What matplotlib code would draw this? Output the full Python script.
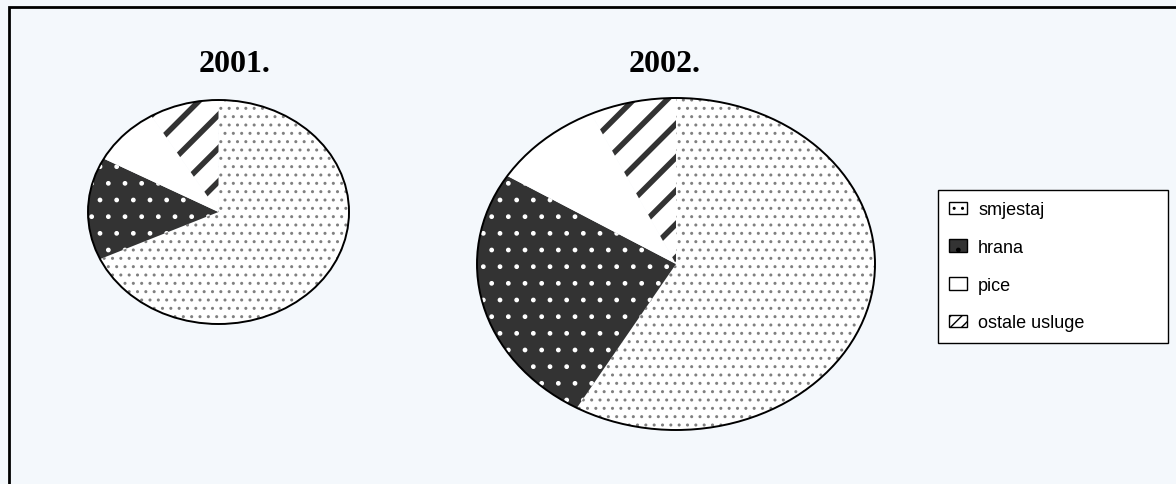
import matplotlib
matplotlib.use('Agg')
import matplotlib.pyplot as plt
from matplotlib.patches import Patch, Circle, Rectangle

# shares of spending (in %)
categories = ['smjestaj', 'hrana', 'pice', 'ostale usluge']
share_2001 = [68.1, 14.8, 8.5, 8.6]
share_2002 = [58.3, 25.6, 9.1, 7.0]
years = ['2001.', '2002.']

faces = ['white', '#333333', 'white', 'white']
hatches = ['..', '.', '', '/']
hatch_cols = ['#808080', 'white', 'white', '#333333']
hatch_lws = [1.0, 1.0, 1.0, 4.0]

bg = '#f4f8fc'
W, H = 1176, 485

fig = plt.figure(figsize=(W / 100, H / 100), dpi=100)
fig.patch.set_facecolor(bg)

# outer frame, runs off the right and bottom edge
fig.patches.append(Rectangle((9 / W, -0.1), 1.2, 1 - 8 / H + 0.1, transform=fig.transFigure,
                             fill=False, ec='black', lw=2))


def pie_axes(left, top, right, bottom):
    return fig.add_axes([left / W, 1 - bottom / H, (right - left) / W, (bottom - top) / H])


def draw_pie(ax, values):
    wedges, _ = ax.pie(values, startangle=90, counterclock=False, colors=faces,
                       hatch=hatches, radius=1, wedgeprops=dict(linewidth=0))
    for w, c, lw in zip(wedges, hatch_cols, hatch_lws):
        w.set_edgecolor(c)
        if hasattr(w, 'set_hatch_linewidth'):
            w.set_hatch_linewidth(lw)
    ax.set_aspect('auto')
    ax.set_xlim(-1, 1)
    ax.set_ylim(-1, 1)
    ax.add_patch(Circle((0, 0), 1, fill=False, ec='black', lw=1.4, clip_on=False))


ax1 = pie_axes(88, 101, 349, 325)
draw_pie(ax1, share_2001)
ax2 = pie_axes(477, 99, 875, 431)
draw_pie(ax2, share_2002)

fig.text(235 / W, 1 - 65 / H, years[0], ha='center', va='center',
         family='Liberation Serif', weight='bold', fontsize=23)
fig.text(665 / W, 1 - 65 / H, years[1], ha='center', va='center',
         family='Liberation Serif', weight='bold', fontsize=23)

# legend boxes are tiny, so the stripe hatch is made denser there
leg_hatches = ['..', '.', '', '///']
handles = [Patch(facecolor=f, edgecolor='black', hatch=h, lw=1) for f, h in zip(faces, leg_hatches)]
leg = fig.legend(handles, categories, loc='upper left',
                 bbox_to_anchor=(938 / W, 1 - 343 / H, 230 / W, 152 / H), mode='expand',
                 borderaxespad=0, fancybox=False, edgecolor='black', framealpha=1,
                 prop=dict(family='Liberation Sans', size=13), labelspacing=1.15,
                 handlelength=1.0, handleheight=0.67, handletextpad=0.6, borderpad=0.62)
leg.get_frame().set_linewidth(1.0)

fig.savefig('out.png', dpi=100, facecolor=bg)
